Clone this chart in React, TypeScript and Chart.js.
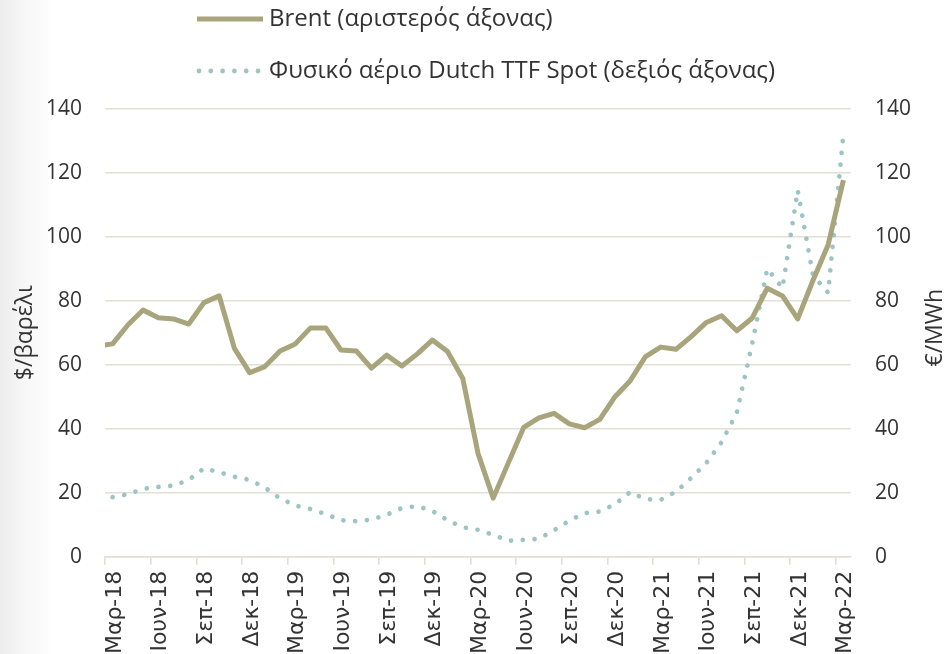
import React, { useEffect, useRef } from 'react';
import { Chart, registerables } from 'chart.js';

Chart.register(...registerables);

// ---- Data ----
const months = [
  'Μαρ-18', 'Απρ-18', 'Μαϊ-18', 'Ιουν-18', 'Ιουλ-18', 'Αυγ-18', 'Σεπ-18', 'Οκτ-18', 'Νοε-18', 'Δεκ-18',
  'Ιαν-19', 'Φεβ-19', 'Μαρ-19', 'Απρ-19', 'Μαϊ-19', 'Ιουν-19', 'Ιουλ-19', 'Αυγ-19', 'Σεπ-19', 'Οκτ-19', 'Νοε-19', 'Δεκ-19',
  'Ιαν-20', 'Φεβ-20', 'Μαρ-20', 'Απρ-20', 'Μαϊ-20', 'Ιουν-20', 'Ιουλ-20', 'Αυγ-20', 'Σεπ-20', 'Οκτ-20', 'Νοε-20', 'Δεκ-20',
  'Ιαν-21', 'Φεβ-21', 'Μαρ-21', 'Απρ-21', 'Μαϊ-21', 'Ιουν-21', 'Ιουλ-21', 'Αυγ-21', 'Σεπ-21', 'Οκτ-21', 'Νοε-21', 'Δεκ-21',
  'Ιαν-22', 'Φεβ-22', 'Μαρ-22',
];

// Brent, $/barrel (left axis), monthly Mar-18 .. Mar-22
const brentFeb18 = 65.8; // preceding month, clipped at the left edge
const brent = [
  66.5, 72.4, 77.1, 74.7, 74.3, 72.7, 79.4, 81.5, 65.1, 57.5,
  59.4, 64.3, 66.5, 71.5, 71.5, 64.6, 64.3, 58.9, 63.0, 59.6, 63.3, 67.7,
  64.1, 55.7, 32.3, 18.3, 29.4, 40.4, 43.4, 44.8, 41.5, 40.3, 42.9, 50.0,
  55.0, 62.5, 65.5, 64.8, 68.8, 73.2, 75.3, 70.6, 74.5, 83.9, 81.5, 74.3,
  86.3, 97.5, 117.7,
];

// Dutch TTF spot, €/MWh (right axis), monthly Mar-18 .. Mar-22
const ttf = [
  18.6, 19.5, 21.2, 21.8, 22.2, 24.0, 27.6, 26.4, 25.0, 24.0,
  21.6, 18.2, 16.0, 14.9, 13.3, 11.4, 11.1, 11.6, 13.1, 15.2, 15.8, 14.3,
  11.4, 9.2, 8.4, 6.8, 5.0, 5.3, 5.6, 8.3, 11.3, 13.6, 14.1, 16.4,
  20.2, 18.0, 17.8, 20.3, 24.6, 29.3, 35.8, 45.0, 66.4, 90.0, 84.0, 114.5,
  88.0, 82.5, 132.0,
];

const legendLabels = ['Brent (αριστερός άξονας)', 'Φυσικό αέριο Dutch TTF Spot (δεξιός άξονας)'];
const leftTitle = '$/βαρέλι';
const rightTitle = '€/MWh';
const yTicks = { min: 0, max: 140, step: 20 };
const tickEvery = 3;

// ---- Styles ----
const BRENT_COLOR = '#A8A47B';
const TTF_COLOR = '#9CC4C2';
const GRID_COLOR = '#E4DFD6';
const TEXT_COLOR = '#333333';
const FONT = '"Open Sans", "Noto Sans", sans-serif';
const XFONT = '"DejaVu Sans", sans-serif';

const overlayPlugin = {
  id: 'overlay',
  afterDraw(chart: any) {
    const ctx: CanvasRenderingContext2D = chart.ctx;
    const area = chart.chartArea;
    ctx.save();
    ctx.fillStyle = TEXT_COLOR;
    ctx.textBaseline = 'middle';
    ctx.font = `24px ${FONT}`;

    // Legend row 1 (solid line)
    ctx.strokeStyle = BRENT_COLOR;
    ctx.lineWidth = 5;
    ctx.beginPath();
    ctx.moveTo(197, 19);
    ctx.lineTo(263, 19);
    ctx.stroke();
    ctx.textAlign = 'left';
    ctx.fillText(legendLabels[0], 269, 19);

    // Legend row 2 (dotted)
    ctx.fillStyle = TTF_COLOR;
    for (let x = 199; x <= 262; x += 11.8) {
      ctx.beginPath();
      ctx.arc(x, 71, 2.4, 0, Math.PI * 2);
      ctx.fill();
    }
    ctx.fillStyle = TEXT_COLOR;
    ctx.fillText(legendLabels[1], 269, 71);

    // Axis titles
    const midY = (area.top + area.bottom) / 2;
    ctx.font = `23px ${FONT}`;
    ctx.textAlign = 'center';
    ctx.save();
    ctx.translate(25, midY);
    ctx.rotate(-Math.PI / 2);
    ctx.fillText(leftTitle, 0, 0);
    ctx.restore();
    ctx.save();
    ctx.translate(935, midY - 5);
    ctx.rotate(-Math.PI / 2);
    ctx.fillText(rightTitle, 0, 0);
    ctx.restore();
    ctx.restore();
  },
};

export default function App() {
  const ref = useRef<HTMLCanvasElement>(null);

  useEffect(() => {
    if (!ref.current) return;
    const brentData = [{ x: -0.5, y: brentFeb18 }, ...brent.map((v, i) => ({ x: i + 0.5, y: v }))];
    const ttfData = ttf.map((v, i) => ({ x: i + 0.5, y: v }));

    const chart = new Chart(ref.current, {
      type: 'line',
      data: {
        datasets: [
          {
            label: legendLabels[0],
            data: brentData,
            yAxisID: 'y',
            borderColor: BRENT_COLOR,
            borderWidth: 5,
            pointRadius: 0,
            tension: 0,
            borderJoinStyle: 'round',
            clip: 0,
          } as any,
          {
            label: legendLabels[1],
            data: ttfData,
            yAxisID: 'y2',
            borderColor: TTF_COLOR,
            borderWidth: 4.7,
            borderDash: [0.001, 11.8],
            borderCapStyle: 'round',
            pointRadius: 0,
            tension: 0,
          } as any,
        ],
      },
      options: {
        responsive: false,
        animation: false,
        devicePixelRatio: 1,
        layout: { padding: { top: 108.7, left: 0, right: 0, bottom: 0 } },
        plugins: { legend: { display: false }, tooltip: { enabled: false } },
        scales: {
          x: {
            type: 'linear',
            min: 0,
            max: months.length,
            afterFit: (s: any) => { s.height = 97.3; },
            ticks: {
              stepSize: tickEvery,
              includeBounds: false,
              autoSkip: false,
              minRotation: 90,
              maxRotation: 90,
              padding: 6,
              labelOffset: 10,
              color: TEXT_COLOR,
              font: { family: XFONT, size: 22 },
              callback: (value: any) => {
                const i = Math.round(Number(value));
                return i % tickEvery === 0 && months[i] ? months[i] : '';
              },
            },
            grid: {
              drawOnChartArea: false,
              drawTicks: true,
              tickLength: 8,
              color: GRID_COLOR,
              lineWidth: 1.6,
            },
            border: { display: true, color: GRID_COLOR, width: 1.6 },
          },
          y: {
            type: 'linear',
            position: 'left',
            min: yTicks.min,
            max: yTicks.max,
            afterFit: (s: any) => { s.width = 105; },
            ticks: {
              stepSize: yTicks.step,
              padding: 23,
              color: TEXT_COLOR,
              font: { family: FONT, size: 21 },
            },
            grid: { color: GRID_COLOR, lineWidth: 1.6, drawTicks: false },
            border: { display: false },
          },
          y2: {
            type: 'linear',
            position: 'right',
            min: yTicks.min,
            max: yTicks.max,
            afterFit: (s: any) => { s.width = 97; },
            ticks: {
              stepSize: yTicks.step,
              padding: 24,
              color: TEXT_COLOR,
              font: { family: FONT, size: 21 },
            },
            grid: { display: false, drawTicks: false },
            border: { display: false },
          },
        },
      },
      plugins: [overlayPlugin],
    });
    return () => chart.destroy();
  }, []);

  return (
    <div
      style={{
        position: 'fixed',
        left: 0,
        top: 0,
        width: 948,
        height: 654,
        background: 'linear-gradient(to right, #ececec 0px, #f7f7f7 25px, #ffffff 55px)',
      }}
    >
      <canvas ref={ref} width={948} height={654} style={{ display: 'block' }} />
    </div>
  );
}
